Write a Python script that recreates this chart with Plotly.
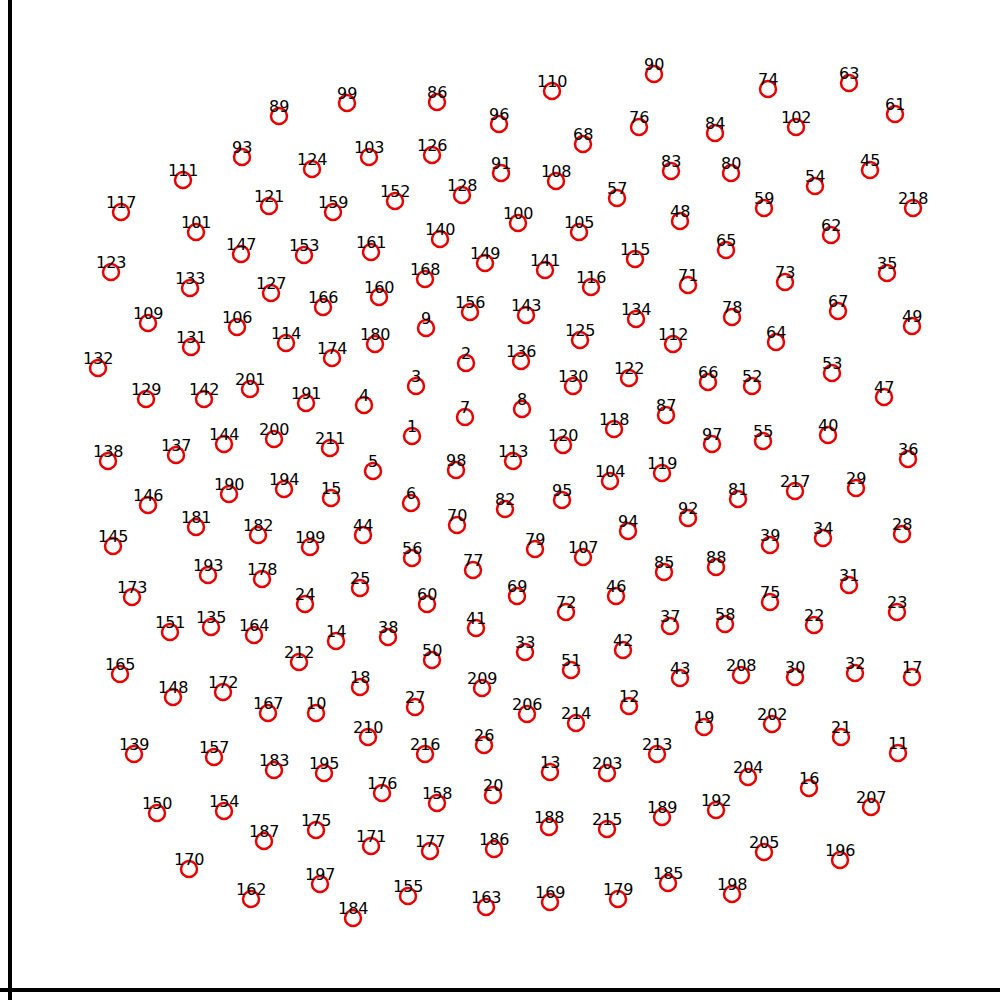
import plotly.graph_objects as go

labels = list(range(1, 219))

x_vals = [
    412, 466, 416, 364, 373, 411, 465, 522, 426, 316,   # 1-10
    898, 629, 550, 336, 331, 809, 912, 360, 704, 493,   # 11-20
    841, 814, 897, 305, 360, 484, 415, 902, 856, 795,   # 21-30
    849, 855, 525, 823, 887, 908, 670, 388, 770, 828,   # 31-40
    476, 623, 680, 363, 870, 616, 884, 680, 912, 432,   # 41-50
    571, 752, 832, 815, 763, 412, 617, 725, 764, 427,   # 51-60
    895, 831, 849, 776, 726, 708, 838, 583, 517, 457,   # 61-70
    688, 566, 785, 768, 770, 639, 473, 732, 535, 731,   # 71-80
    738, 505, 671, 715, 664, 437, 666, 716, 279, 654,   # 81-90
    501, 688, 242, 628, 562, 499, 712, 456, 347, 518,   # 91-100
    196, 796, 369, 610, 579, 237, 583, 556, 148, 552,   # 101-110
    183, 673, 513, 286, 635, 591, 121, 614, 662, 563,   # 111-120
    269, 629, 111, 312, 580, 432, 271, 462, 146, 573,   # 121-130
    191, 98, 190, 636, 211, 521, 176, 108, 134, 440,    # 131-140
    545, 204, 526, 224, 113, 148, 241, 173, 485, 157,   # 141-150
    170, 395, 304, 224, 408, 470, 214, 437, 333, 379,   # 151-160
    371, 251, 486, 254, 120, 323, 268, 425, 550, 189,   # 161-170
    371, 223, 132, 332, 316, 382, 430, 262, 618, 375,   # 171-180
    196, 258, 274, 353, 668, 494, 264, 549, 662, 229,   # 181-190
    306, 716, 208, 284, 324, 840, 320, 732, 310, 274,   # 191-200
    250, 772, 607, 748, 764, 527, 871, 741, 482, 368,   # 201-210
    330, 299, 657, 576, 607, 425, 795, 913,             # 211-218
]

y_px = [
    436, 363, 386, 405, 471, 503, 417, 409, 328, 713,   # 1-10
    753, 706, 772, 641, 498, 788, 677, 687, 727, 795,   # 11-20
    737, 625, 612, 604, 588, 745, 707, 534, 488, 677,   # 21-30
    585, 673, 652, 538, 273, 459, 626, 637, 545, 435,   # 31-40
    628, 650, 678, 535, 170, 596, 397, 221, 326, 660,   # 41-50
    670, 386, 373, 186, 441, 558, 198, 624, 208, 604,   # 51-60
    114, 235, 83, 342, 250, 382, 311, 144, 596, 525,    # 61-70
    285, 612, 282, 89, 602, 127, 570, 317, 549, 173,    # 71-80
    499, 509, 171, 133, 572, 102, 415, 567, 116, 74,    # 81-90
    173, 518, 157, 531, 500, 124, 444, 470, 103, 223,   # 91-100
    232, 127, 157, 481, 232, 327, 557, 181, 323, 91,    # 101-110
    180, 344, 461, 343, 259, 287, 212, 429, 473, 445,   # 111-120
    206, 378, 272, 169, 340, 155, 293, 195, 399, 386,   # 121-130
    347, 368, 288, 319, 627, 361, 455, 461, 754, 239,   # 131-140
    270, 399, 315, 444, 546, 505, 254, 697, 263, 813,   # 141-150
    632, 201, 255, 811, 896, 312, 757, 803, 212, 297,   # 151-160
    252, 899, 907, 635, 674, 307, 713, 279, 902, 869,   # 161-170
    846, 692, 597, 358, 830, 793, 851, 579, 899, 344,   # 171-180
    527, 535, 770, 918, 883, 849, 841, 827, 817, 494,   # 181-190
    403, 810, 575, 489, 773, 860, 884, 894, 547, 439,   # 191-200
    389, 724, 773, 777, 852, 714, 807, 675, 688, 737,   # 201-210
    448, 662, 754, 723, 829, 754, 491, 208,             # 211-218
]

# vertical values measured from the top of the picture; convert to upward axis
y_vals = [1000 - v for v in y_px]
text_labels = [str(n) for n in labels]

fig = go.Figure()
fig.add_trace(go.Scatter(
    x=x_vals, y=y_vals, mode="markers",
    marker=dict(symbol="circle-open", size=16, color="#e60000",
                line=dict(width=2.5, color="#e60000")),
    hoverinfo="skip", showlegend=False,
))

for xv, yv, t in zip(x_vals, y_vals, text_labels):
    fig.add_annotation(x=xv, y=yv, text=t, showarrow=False, yshift=10,
                       font=dict(family="DejaVu Sans", size=16, color="black"))

fig.add_shape(type="line", xref="paper", yref="paper", x0=0, x1=0, y0=-0.02, y1=1.0,
              line=dict(color="black", width=4))
fig.add_shape(type="line", xref="paper", yref="paper", x0=-0.02, x1=1.0, y0=0, y1=0,
              line=dict(color="black", width=4))

fig.update_layout(
    width=1000, height=1000,
    margin=dict(l=10, r=0, t=0, b=10),
    paper_bgcolor="white", plot_bgcolor="white",
    xaxis=dict(range=[10, 1000], showgrid=False, zeroline=False, showticklabels=False, ticks=""),
    yaxis=dict(range=[10, 1000], showgrid=False, zeroline=False, showticklabels=False, ticks=""),
)

fig.write_html("out.html")
